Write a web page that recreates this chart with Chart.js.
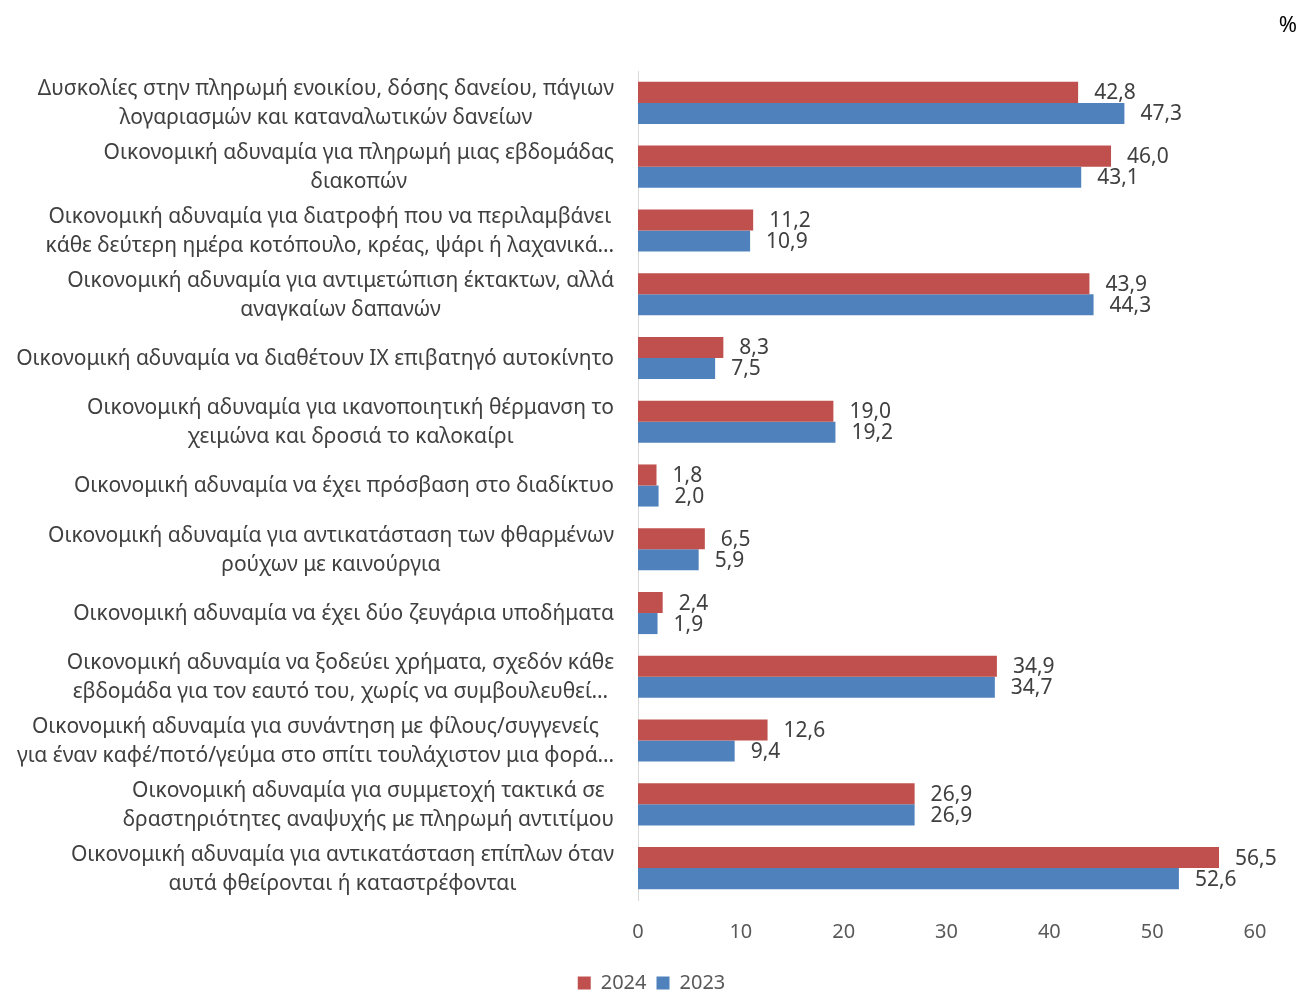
<!DOCTYPE html>
<html lang="el">
<head>
<meta charset="utf-8">
<title>Οικονομική αδυναμία</title>
<script src="https://cdn.jsdelivr.net/npm/chart.js@4.4.1/dist/chart.umd.min.js"></script>
<style>
  html, body { margin: 0; padding: 0; background: #fff; }
  #wrap { position: relative; width: 1307px; height: 992px; }
  #unit {
    position: absolute; right: 10px; top: 8px;
    font-family: "Noto Sans", sans-serif; font-size: 22px; color: #000;
  }
</style>
</head>
<body>
<div id="wrap">
  <canvas id="chart"></canvas>
  <div id="unit">%</div>
</div>
<script>
// κατηγορίες (κάθε στοιχείο = γραμμές της ετικέτας)
const categories = [
  ["Δυσκολίες στην πληρωμή ενοικίου, δόσης δανείου, πάγιων", "λογαριασμών και καταναλωτικών δανείων"],
  ["Οικονομική αδυναμία για πληρωμή μιας εβδομάδας", "διακοπών"],
  ["Οικονομική αδυναμία για διατροφή που να περιλαμβάνει", "κάθε δεύτερη ημέρα κοτόπουλο, κρέας, ψάρι ή λαχανικά…"],
  ["Οικονομική αδυναμία για αντιμετώπιση έκτακτων, αλλά", "αναγκαίων δαπανών"],
  ["Οικονομική αδυναμία να διαθέτουν ΙΧ επιβατηγό αυτοκίνητο"],
  ["Οικονομική αδυναμία για ικανοποιητική θέρμανση το", "χειμώνα και δροσιά το καλοκαίρι"],
  ["Οικονομική αδυναμία να έχει πρόσβαση στο διαδίκτυο"],
  ["Οικονομική αδυναμία για αντικατάσταση των φθαρμένων", "ρούχων με καινούργια"],
  ["Οικονομική αδυναμία να έχει δύο ζευγάρια υποδήματα"],
  ["Οικονομική αδυναμία να ξοδεύει χρήματα, σχεδόν κάθε", "εβδομάδα για τον εαυτό του, χωρίς να συμβουλευθεί…"],
  ["Οικονομική αδυναμία για συνάντηση με φίλους/συγγενείς", "για έναν καφέ/ποτό/γεύμα στο σπίτι τουλάχιστον μια φορά…"],
  ["Οικονομική αδυναμία για συμμετοχή τακτικά σε", "δραστηριότητες αναψυχής με πληρωμή αντιτίμου"],
  ["Οικονομική αδυναμία για αντικατάσταση επίπλων όταν", "αυτά φθείρονται ή καταστρέφονται"]
];
const values2024 = [42.8, 46.0, 11.2, 43.9, 8.3, 19.0, 1.8, 6.5, 2.4, 34.9, 12.6, 26.9, 56.5];
const values2023 = [47.3, 43.1, 10.9, 44.3, 7.5, 19.2, 2.0, 5.9, 1.9, 34.7, 9.4, 26.9, 52.6];
const xMin = 0, xMax = 60, xStep = 10;

const FONT = '"Noto Sans", sans-serif';
const TEXT = "#404040";

// ετικέτες κατηγοριών: στοίχιση δεξιά, γραμμές κεντραρισμένες μεταξύ τους
const categoryLabels = {
  id: "categoryLabels",
  afterDraw(chart) {
    const ctx = chart.ctx;
    const yScale = chart.scales.y;
    const right = chart.chartArea.left - 24;
    ctx.save();
    ctx.font = "21px " + FONT;
    ctx.fillStyle = TEXT;
    ctx.textAlign = "center";
    ctx.textBaseline = "middle";
    categories.forEach((lines, i) => {
      const cy = yScale.getPixelForTick(i);
      const maxW = Math.max(...lines.map((l) => ctx.measureText(l).width));
      const cx = right - maxW / 2;
      lines.forEach((l, j) => {
        ctx.fillText(l, cx, cy + 1 + (j - (lines.length - 1) / 2) * 29);
      });
    });
    ctx.restore();
  },
};

// τιμές δεξιά από κάθε μπάρα
const valueLabels = {
  id: "valueLabels",
  afterDatasetsDraw(chart) {
    const ctx = chart.ctx;
    ctx.save();
    ctx.font = "21px " + FONT;
    ctx.fillStyle = TEXT;
    ctx.textAlign = "left";
    ctx.textBaseline = "middle";
    chart.data.datasets.forEach((ds, di) => {
      chart.getDatasetMeta(di).data.forEach((bar, i) => {
        const txt = ds.data[i].toFixed(1).replace(".", ",");
        ctx.fillText(txt, bar.x + 16, bar.y + 1);
      });
    });
    ctx.restore();
  },
};

// υπόμνημα λίγο δεξιότερα, όπως στο πρωτότυπο
const shiftLegend = {
  id: "shiftLegend",
  afterLayout(chart) {
    const lg = chart.legend;
    lg.left += 24;
    lg.right += 24;
    lg.top -= 1;
    lg.bottom -= 1;
  },
};

new Chart(document.getElementById("chart"), {
  type: "bar",
  data: {
    labels: categories,
    datasets: [
      {
        label: "2024",
        data: values2024,
        backgroundColor: "#C0504D",
        categoryPercentage: 0.66,
        barPercentage: 1.0,
      },
      {
        label: "2023",
        data: values2023,
        backgroundColor: "#4F81BD",
        categoryPercentage: 0.66,
        barPercentage: 1.0,
      },
    ],
  },
  options: {
    indexAxis: "y",
    responsive: true,
    maintainAspectRatio: false,
    animation: false,
    layout: { padding: { top: 71, right: 52, left: 0, bottom: -12 } },
    scales: {
      x: {
        min: xMin,
        max: xMax,
        ticks: { stepSize: xStep, color: "#595959", font: { family: FONT, size: 20 }, padding: 20 },
        grid: { display: false, drawTicks: false },
        border: { display: false },
      },
      y: {
        ticks: { display: false },
        grid: { display: false, drawTicks: false },
        border: { display: true, color: "#D9D9D9", width: 1 },
        afterFit(scale) { scale.width = 638; },
      },
    },
    plugins: {
      legend: {
        position: "bottom",
        labels: {
          boxWidth: 13,
          boxHeight: 13,
          color: "#595959",
          font: { family: FONT, size: 20 },
          padding: 10,
        },
      },
      tooltip: { enabled: false },
    },
  },
  plugins: [categoryLabels, valueLabels, shiftLegend],
});
</script>
</body>
</html>
